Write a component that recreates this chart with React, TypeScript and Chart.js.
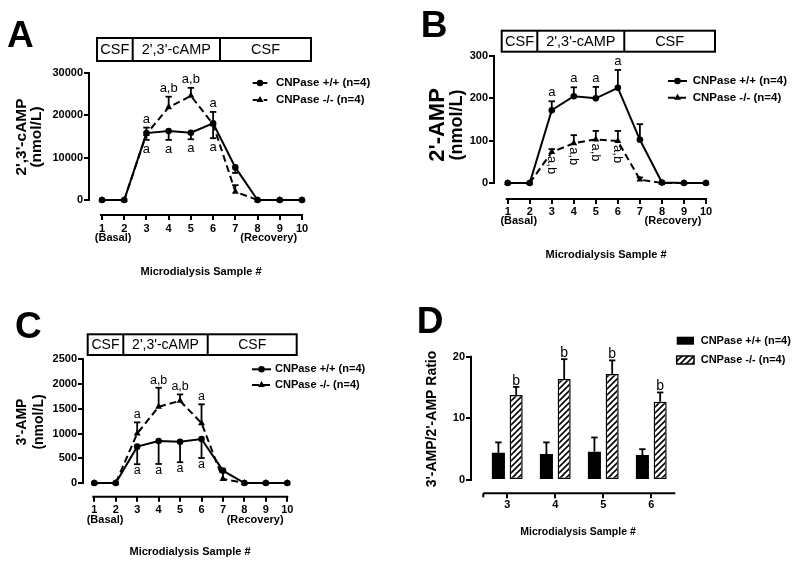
import { useEffect, useRef } from "react";
import { Chart, registerables } from "chart.js";

Chart.register(...registerables);

const FONT = '"Liberation Sans", Arial, Helvetica, sans-serif';
const INK = "#000";

// ---------------- data ----------------
const samples = [1, 2, 3, 4, 5, 6, 7, 8, 9, 10];
const sampleTickLabels = ["1", "2", "3", "4", "5", "6", "7", "8", "9", "10"];
const seriesNames = ["CNPase +/+ (n=4)", "CNPase -/- (n=4)"];
const periodLabels = ["CSF", "2',3'-cAMP", "CSF"];
const basalLabel = "(Basal)";
const recoveryLabel = "(Recovery)";
const xAxisTitle = "Microdialysis Sample #";

// Panel A: 2',3'-cAMP
const aTitle = ["2',3'-cAMP", "(nmol/L)"];
const aYTicks = [0, 10000, 20000, 30000];
const aWT = [0, 0, 15800, 16300, 15900, 18100, 7700, 0, 0, 0];
const aWTErr = [0, 0, 1600, 2100, 1550, 3500, 1300, 0, 0, 0];
const aKO = [0, 0, 15600, 21900, 24600, 17900, 1950, 0, 0, 0];
const aKOErr = [0, 0, 1500, 2500, 1900, 2900, 1550, 0, 0, 0];
const aWTSig = ["", "", "a", "a", "a", "a", "", "", "", ""];
const aKOSig = ["", "", "a", "a,b", "a,b", "a", "", "", "", ""];

// Panel B: 2'-AMP
const bTitle = ["2'-AMP", "(nmol/L)"];
const bYTicks = [0, 100, 200, 300];
const bWT = [0, 0, 172, 205, 200, 225, 102, 1, 0, 0];
const bWTErr = [0, 0, 21, 21, 27, 42, 37, 0, 0, 0];
const bKO = [0, 0, 73, 94, 103, 99, 8, 0, 0, 0];
const bKOErr = [0, 0, 7, 19, 20, 24, 5, 0, 0, 0];
const bWTSig = ["", "", "a", "a", "a", "a", "", "", "", ""];
const bKOSig = ["", "", "a,b", "a,b", "a,b", "a,b", "", "", "", ""];

// Panel C: 3'-AMP
const cTitle = ["3'-AMP", "(nmol/L)"];
const cYTicks = [0, 500, 1000, 1500, 2000, 2500];
const cWT = [0, 0, 735, 850, 835, 890, 250, 0, 0, 0];
const cWTErr = [0, 0, 355, 465, 415, 385, 0, 0, 0, 0];
const cKO = [0, 0, 1000, 1540, 1660, 1210, 80, 0, 0, 0];
const cKOErr = [0, 0, 225, 385, 130, 380, 170, 0, 0, 0];
const cWTSig = ["", "", "a", "a", "a", "a", "", "", "", ""];
const cKOSig = ["", "", "a", "a,b", "a,b", "a", "", "", "", ""];

// Panel D: 3'-AMP / 2'-AMP ratio
const dTitle = ["3'-AMP/2'-AMP Ratio"];
const dSamples = [3, 4, 5, 6];
const dTickLabels = ["3", "4", "5", "6"];
const dYTicks = [0, 10, 20];
const dWT = [4.4, 4.2, 4.6, 4.05];
const dWTErr = [1.7, 1.9, 2.3, 0.95];
const dKO = [13.8, 16.4, 17.2, 12.7];
const dKOErr = [1.3, 3.2, 2.2, 1.5];
const dKOSig = ["b", "b", "b", "b"];

// ---------------- layout ----------------
const W = 800;
const H = 565;
const AXIS_W = 40;
const AXIS_H = 20;

type Line = { x: number; size: number };
type Layout = {
  letter: { text: string; x: number; y: number; size: number };
  area: { left: number; right: number; top: number; bottom: number };
  zeroGap: number;
  xMin: number;
  xMax: number;
  xTickPad: number;
  box?: { left: number; right: number; top: number; bottom: number; dividers: number[]; size: number };
  yTitle: { y: number; lines: Line[]; bold: boolean };
  xTitle: { x: number; y: number; size: number };
  subLabelY?: number;
  legend: { x0: number; x1: number; textX: number; ys: number[]; size: number };
  sigSize: number;
};

type LinePanel = {
  L: Layout;
  title: string[];
  yTicks: number[];
  wt: number[];
  wtErr: number[];
  wtErrDir: number;
  ko: number[];
  koErr: number[];
  koErrDir: number;
  wtSig: string[];
  koSig: string[];
  wtSigMode: string;
  wtSigOff: number;
  koSigMode: string;
  koSigOff: number;
};

const layoutA: Layout = {
  letter: { text: "A", x: 7, y: 47, size: 37 },
  area: { left: 89, right: 302, top: 73, bottom: 215 },
  zeroGap: 15,
  xMin: 0.415,
  xMax: 10,
  xTickPad: 2,
  box: { left: 97, right: 311, top: 38, bottom: 61, dividers: [132.7, 220], size: 14.5 },
  yTitle: { y: 137, lines: [{ x: 21.5, size: 15.5 }, { x: 37, size: 15.5 }], bold: true },
  xTitle: { x: 201, y: 272, size: 11 },
  subLabelY: 238.3,
  legend: { x0: 252.7, x1: 267.3, textX: 276, ys: [83, 100], size: 11.5 },
  sigSize: 13,
};

const layoutB: Layout = {
  letter: { text: "B", x: 420.7, y: 37, size: 37 },
  area: { left: 494, right: 706, top: 56, bottom: 199 },
  zeroGap: 16,
  xMin: 0.378,
  xMax: 10,
  xTickPad: 1,
  box: { left: 501.7, right: 715, top: 30.7, bottom: 51.7, dividers: [537.3, 624.3], size: 14.5 },
  yTitle: { y: 125, lines: [{ x: 437.5, size: 22 }, { x: 457, size: 18 }], bold: true },
  xTitle: { x: 606, y: 255, size: 11 },
  subLabelY: 221,
  legend: { x0: 668, x1: 687, textX: 692.7, ys: [81, 97.7], size: 11.5 },
  sigSize: 13,
};

const layoutC: Layout = {
  letter: { text: "C", x: 15, y: 338, size: 37 },
  area: { left: 83, right: 287.3, top: 359.3, bottom: 496.7 },
  zeroGap: 13.7,
  xMin: 0.473,
  xMax: 10,
  xTickPad: 2,
  box: { left: 87.7, right: 296.7, top: 334.3, bottom: 355, dividers: [123.3, 207.7], size: 14 },
  yTitle: { y: 422, lines: [{ x: 22.5, size: 14 }, { x: 39, size: 14 }], bold: true },
  xTitle: { x: 190, y: 552, size: 11 },
  subLabelY: 520,
  legend: { x0: 252, x1: 271, textX: 275, ys: [369.3, 385], size: 11 },
  sigSize: 12.5,
};

const layoutD: Layout = {
  letter: { text: "D", x: 416.7, y: 332.7, size: 37 },
  area: { left: 471, right: 675.3, top: 356.7, bottom: 493.3 },
  zeroGap: 13.3,
  xMin: 2.244,
  xMax: 6.5,
  xTickPad: 0,
  yTitle: { y: 419, lines: [{ x: 432, size: 14 }], bold: true },
  xTitle: { x: 578, y: 531.7, size: 10.5 },
  legend: { x0: 676.7, x1: 694, textX: 700.7, ys: [340.7, 360], size: 11 },
  sigSize: 14,
};

// ---------------- drawing helpers ----------------
function txt(
  ctx: CanvasRenderingContext2D,
  s: string,
  x: number,
  y: number,
  size: number,
  bold = false,
  align: CanvasTextAlign = "center",
  baseline: CanvasTextBaseline = "middle"
) {
  ctx.font = `${bold ? "bold " : ""}${size}px ${FONT}`;
  ctx.textAlign = align;
  ctx.textBaseline = baseline;
  ctx.fillStyle = INK;
  ctx.fillText(s, x, y);
}

function seg(ctx: CanvasRenderingContext2D, x0: number, y0: number, x1: number, y1: number, w = 2) {
  ctx.save();
  ctx.setLineDash([]);
  ctx.strokeStyle = INK;
  ctx.lineWidth = w;
  ctx.beginPath();
  ctx.moveTo(x0, y0);
  ctx.lineTo(x1, y1);
  ctx.stroke();
  ctx.restore();
}

function marker(ctx: CanvasRenderingContext2D, style: string, x: number, y: number, r: number) {
  ctx.save();
  ctx.fillStyle = INK;
  ctx.beginPath();
  if (style === "circle") {
    ctx.arc(x, y, r, 0, Math.PI * 2);
  } else {
    let a = 0;
    ctx.moveTo(x + Math.sin(a) * r, y - Math.cos(a) * r);
    a += (2 * Math.PI) / 3;
    ctx.lineTo(x + Math.sin(a) * r, y - Math.cos(a) * r);
    a += (2 * Math.PI) / 3;
    ctx.lineTo(x + Math.sin(a) * r, y - Math.cos(a) * r);
    ctx.closePath();
  }
  ctx.fill();
  ctx.restore();
}

function errBar(ctx: CanvasRenderingContext2D, x: number, y0: number, y1: number) {
  seg(ctx, x, y0, x, y1, 1.8);
  seg(ctx, x - 3.2, y1, x + 3.2, y1, 1.8);
}

function drawCommon(ctx: CanvasRenderingContext2D, L: Layout, title: string[]) {
  txt(ctx, L.letter.text, L.letter.x, L.letter.y, L.letter.size, true, "left", "alphabetic");
  if (L.box) {
    const b = L.box;
    ctx.save();
    ctx.strokeStyle = INK;
    ctx.lineWidth = 2;
    ctx.strokeRect(b.left, b.top, b.right - b.left, b.bottom - b.top);
    ctx.restore();
    b.dividers.forEach((d) => seg(ctx, d, b.top, d, b.bottom, 2));
    const edges = [b.left, ...b.dividers, b.right];
    periodLabels.forEach((t, i) => txt(ctx, t, (edges[i] + edges[i + 1]) / 2, (b.top + b.bottom) / 2 + 0.5, b.size));
  }
  title.forEach((t, i) => {
    const ln = L.yTitle.lines[i];
    ctx.save();
    ctx.translate(ln.x, L.yTitle.y);
    ctx.rotate(-Math.PI / 2);
    txt(ctx, t, 0, 0, ln.size, L.yTitle.bold);
    ctx.restore();
  });
  txt(ctx, xAxisTitle, L.xTitle.x, L.xTitle.y, L.xTitle.size, true);
}

function scaleOpts(min: number, max: number, ticks: number[], labels: (v: number) => string, fitter: (s: any) => void, pad: number) {
  return {
    type: "linear",
    min,
    max,
    offset: false,
    afterBuildTicks: (s: any) => {
      s.ticks = ticks.map((v) => ({ value: v }));
    },
    afterFit: fitter,
    ticks: {
      autoSkip: false,
      maxRotation: 0,
      minRotation: 0,
      padding: pad,
      color: INK,
      font: { family: FONT, size: 11, weight: "bold" },
      callback: (v: number) => labels(v),
    },
    grid: { display: true, drawOnChartArea: false, drawTicks: true, tickLength: 5, color: INK, lineWidth: 2, offset: false },
    border: { display: false },
  };
}

function yMinFor(L: Layout, yMax: number) {
  const h = L.area.bottom - L.area.top;
  return (-L.zeroGap * yMax) / (h - L.zeroGap);
}

function padFor(L: Layout) {
  return {
    left: L.area.left - AXIS_W,
    right: W - L.area.right,
    top: L.area.top,
    bottom: H - L.area.bottom - AXIS_H,
  };
}

// ---------------- line panels ----------------
function linePlugin(p: LinePanel) {
  return {
    id: "linePanel" + p.L.letter.text,
    afterDatasetsDraw(chart: any) {
      const ctx = chart.ctx as CanvasRenderingContext2D;
      const ys = chart.scales.y;
      const sets = [
        { v: p.wt, e: p.wtErr, dir: p.wtErrDir },
        { v: p.ko, e: p.koErr, dir: p.koErrDir },
      ];
      sets.forEach((s, d) => {
        const meta = chart.getDatasetMeta(d);
        s.v.forEach((val, i) => {
          if (s.e[i] > 0) {
            const el = meta.data[i];
            errBar(ctx, el.x, el.y, ys.getPixelForValue(val + s.dir * s.e[i]));
          }
        });
      });
    },
    afterDraw(chart: any) {
      const ctx = chart.ctx as CanvasRenderingContext2D;
      const L = p.L;
      const xs = chart.scales.x;
      const ys = chart.scales.y;
      const ca = chart.chartArea;
      // axis lines
      seg(ctx, ca.left, ys.getPixelForValue(0) + 1, ca.left, ys.getPixelForValue(p.yTicks[p.yTicks.length - 1]) - 1, 2);
      seg(ctx, xs.getPixelForValue(samples[0]) - 2, ca.bottom, xs.getPixelForValue(samples[samples.length - 1]) + 1, ca.bottom, 2);
      // (Basal) / (Recovery)
      if (L.subLabelY) {
        txt(ctx, basalLabel, xs.getPixelForValue(1.5), L.subLabelY, 11, true);
        txt(ctx, recoveryLabel, xs.getPixelForValue(8.5), L.subLabelY, 11, true);
      }
      drawCommon(ctx, L, p.title);
      // legend
      const lg = L.legend;
      chart.data.datasets.forEach((ds: any, d: number) => {
        const y = lg.ys[d];
        ctx.save();
        ctx.strokeStyle = INK;
        ctx.lineWidth = 2;
        ctx.setLineDash(ds.borderDash || []);
        ctx.beginPath();
        ctx.moveTo(lg.x0, y);
        ctx.lineTo(lg.x1, y);
        ctx.stroke();
        ctx.restore();
        marker(ctx, ds.pointStyle, (lg.x0 + lg.x1) / 2, y, ds.pointRadius);
        txt(ctx, ds.label, lg.textX, y, lg.size, true, "left");
      });
      // significance letters
      const sigs = [
        { t: p.wtSig, v: p.wt, e: p.wtErr, dir: p.wtErrDir, mode: p.wtSigMode, off: p.wtSigOff },
        { t: p.koSig, v: p.ko, e: p.koErr, dir: p.koErrDir, mode: p.koSigMode, off: p.koSigOff },
      ];
      sigs.forEach((s) => {
        s.t.forEach((label, i) => {
          if (!label) return;
          const x = xs.getPixelForValue(samples[i]);
          if (s.mode === "above") {
            const yTop = ys.getPixelForValue(s.v[i] + (s.dir > 0 ? s.e[i] : 0));
            txt(ctx, label, x, yTop - s.off, L.sigSize, false, "center", "alphabetic");
          } else if (s.mode === "below") {
            const yBot = ys.getPixelForValue(s.v[i] - (s.dir < 0 ? s.e[i] : 0));
            txt(ctx, label, x, yBot + s.off, L.sigSize, false, "center", "alphabetic");
          } else {
            const yP = ys.getPixelForValue(s.v[i]);
            ctx.save();
            ctx.translate(x, yP + s.off);
            ctx.rotate(Math.PI / 2);
            txt(ctx, label, 0, 0, L.sigSize, false, "left", "middle");
            ctx.restore();
          }
        });
      });
    },
  };
}

function lineConfig(p: LinePanel): any {
  const L = p.L;
  const yMax = p.yTicks[p.yTicks.length - 1];
  const pts = (vals: number[]) => samples.map((s, i) => ({ x: s, y: vals[i] }));
  return {
    type: "line",
    data: {
      datasets: [
        {
          label: seriesNames[0],
          data: pts(p.wt),
          borderColor: INK,
          backgroundColor: INK,
          borderWidth: 2,
          pointStyle: "circle",
          pointRadius: 3.3,
          pointBorderWidth: 0,
          pointBackgroundColor: INK,
          tension: 0,
          clip: false,
        },
        {
          label: seriesNames[1],
          data: pts(p.ko),
          borderColor: INK,
          backgroundColor: INK,
          borderWidth: 2,
          borderDash: [7, 4],
          pointStyle: "triangle",
          pointRadius: 4,
          pointBorderWidth: 0,
          pointBackgroundColor: INK,
          tension: 0,
          clip: false,
        },
      ],
    },
    options: {
      responsive: false,
      animation: false,
      events: [],
      layout: { padding: padFor(L) },
      plugins: { legend: { display: false }, tooltip: { enabled: false }, title: { display: false } },
      scales: {
        x: scaleOpts(L.xMin, L.xMax, samples, (v) => sampleTickLabels[samples.indexOf(v)] ?? "", (s: any) => { s.height = AXIS_H; }, L.xTickPad),
        y: scaleOpts(yMinFor(L, yMax), yMax, p.yTicks, (v) => String(v), (s: any) => { s.width = AXIS_W; }, 1),
      },
    },
    plugins: [linePlugin(p)],
  };
}

const panelA: LinePanel = {
  L: layoutA, title: aTitle, yTicks: aYTicks,
  wt: aWT, wtErr: aWTErr, wtErrDir: -1, ko: aKO, koErr: aKOErr, koErrDir: 1,
  wtSig: aWTSig, koSig: aKOSig, wtSigMode: "below", wtSigOff: 13, koSigMode: "above", koSigOff: 5,
};
const panelB: LinePanel = {
  L: layoutB, title: bTitle, yTicks: bYTicks,
  wt: bWT, wtErr: bWTErr, wtErrDir: 1, ko: bKO, koErr: bKOErr, koErrDir: 1,
  wtSig: bWTSig, koSig: bKOSig, wtSigMode: "above", wtSigOff: 5, koSigMode: "rotated", koSigOff: 4,
};
const panelC: LinePanel = {
  L: layoutC, title: cTitle, yTicks: cYTicks,
  wt: cWT, wtErr: cWTErr, wtErrDir: -1, ko: cKO, koErr: cKOErr, koErrDir: 1,
  wtSig: cWTSig, koSig: cKOSig, wtSigMode: "below", wtSigOff: 10, koSigMode: "above", koSigOff: 4,
};

// ---------------- bar panel ----------------
function makeHatch(): CanvasPattern | string {
  const c = document.createElement("canvas");
  c.width = 6;
  c.height = 6;
  const g = c.getContext("2d");
  if (!g) return "#fff";
  g.fillStyle = "#fff";
  g.fillRect(0, 0, 6, 6);
  g.strokeStyle = INK;
  g.lineWidth = 1.6;
  g.beginPath();
  g.moveTo(-1, 7);
  g.lineTo(7, -1);
  g.moveTo(-1, 1);
  g.lineTo(1, -1);
  g.moveTo(5, 7);
  g.lineTo(7, 5);
  g.stroke();
  return g.createPattern(c, "repeat") || "#fff";
}

function barConfig(): any {
  const L = layoutD;
  const hatch = makeHatch();
  const yMax = dYTicks[dYTicks.length - 1];
  const pts = (vals: number[]) => dSamples.map((s, i) => ({ x: s, y: vals[i] }));
  const plugin = {
    id: "barPanelD",
    afterDatasetsDraw(chart: any) {
      const ctx = chart.ctx as CanvasRenderingContext2D;
      const ys = chart.scales.y;
      [
        { v: dWT, e: dWTErr },
        { v: dKO, e: dKOErr },
      ].forEach((s, d) => {
        const meta = chart.getDatasetMeta(d);
        s.v.forEach((val, i) => {
          const el = meta.data[i];
          errBar(ctx, el.x, ys.getPixelForValue(val), ys.getPixelForValue(val + s.e[i]));
        });
      });
    },
    afterDraw(chart: any) {
      const ctx = chart.ctx as CanvasRenderingContext2D;
      const xs = chart.scales.x;
      const ys = chart.scales.y;
      const ca = chart.chartArea;
      seg(ctx, ca.left, ys.getPixelForValue(0) + 1, ca.left, ys.getPixelForValue(yMax) - 1, 2);
      const xl = xs.getPixelForValue(dSamples[0] - 0.5);
      seg(ctx, xl, ca.bottom, xs.getPixelForValue(dSamples[dSamples.length - 1] + 0.5), ca.bottom, 2);
      seg(ctx, xl, ca.bottom, xl, ca.bottom + 4, 2);
      drawCommon(ctx, L, dTitle);
      // legend
      const lg = L.legend;
      chart.data.datasets.forEach((ds: any, d: number) => {
        const y = lg.ys[d];
        ctx.save();
        ctx.fillStyle = ds.backgroundColor;
        ctx.fillRect(lg.x0, y - 4, lg.x1 - lg.x0, 8);
        if (ds.borderWidth > 0) {
          ctx.strokeStyle = INK;
          ctx.lineWidth = 1.5;
          ctx.strokeRect(lg.x0, y - 4, lg.x1 - lg.x0, 8);
        }
        ctx.restore();
        txt(ctx, ds.label, lg.textX, y, lg.size, true, "left");
      });
      // significance
      const meta = chart.getDatasetMeta(1);
      dKOSig.forEach((label, i) => {
        if (!label) return;
        const el = meta.data[i];
        txt(ctx, label, el.x, ys.getPixelForValue(dKO[i] + dKOErr[i]) - 2, L.sigSize, false, "center", "alphabetic");
      });
    },
  };
  return {
    type: "bar",
    data: {
      datasets: [
        {
          label: seriesNames[0],
          data: pts(dWT),
          backgroundColor: INK,
          borderColor: INK,
          borderWidth: 0,
          categoryPercentage: 0.74,
          barPercentage: 0.735,
        },
        {
          label: seriesNames[1],
          data: pts(dKO),
          backgroundColor: hatch,
          borderColor: INK,
          borderWidth: 1.5,
          borderSkipped: false,
          categoryPercentage: 0.74,
          barPercentage: 0.735,
        },
      ],
    },
    options: {
      responsive: false,
      animation: false,
      events: [],
      layout: { padding: padFor(L) },
      plugins: { legend: { display: false }, tooltip: { enabled: false }, title: { display: false } },
      scales: {
        x: scaleOpts(L.xMin, L.xMax, dSamples, (v) => dTickLabels[dSamples.indexOf(v)] ?? "", (s: any) => { s.height = AXIS_H; }, L.xTickPad),
        y: scaleOpts(yMinFor(L, yMax), yMax, dYTicks, (v) => String(v), (s: any) => { s.width = AXIS_W; }, 1),
      },
    },
    plugins: [plugin],
  };
}

// ---------------- components ----------------
function ChartCanvas({ make }: { make: () => any }) {
  const ref = useRef<HTMLCanvasElement>(null);
  useEffect(() => {
    if (!ref.current) return;
    const chart = new Chart(ref.current, make());
    return () => chart.destroy();
  }, []);
  return (
    <canvas
      ref={ref}
      width={W}
      height={H}
      style={{ position: "absolute", left: 0, top: 0, width: W, height: H }}
    />
  );
}

export default function App() {
  return (
    <div
      style={{
        position: "fixed",
        left: 0,
        top: 0,
        width: W,
        height: H,
        background: "#fff",
        overflow: "hidden",
      }}
    >
      <ChartCanvas make={() => lineConfig(panelA)} />
      <ChartCanvas make={() => lineConfig(panelB)} />
      <ChartCanvas make={() => lineConfig(panelC)} />
      <ChartCanvas make={() => barConfig()} />
    </div>
  );
}
